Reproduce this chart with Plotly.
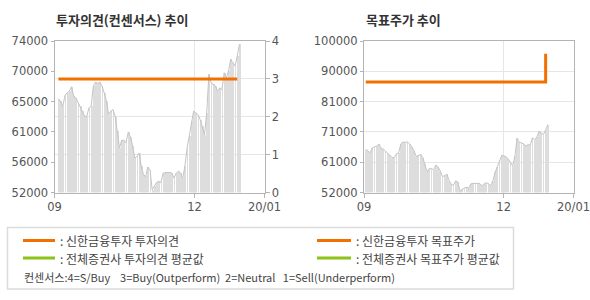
import plotly.graph_objects as go

# ---- data ----
price = [65600, 65260, 64530, 66090, 66470, 66720, 67350, 66000, 65750, 65020,
         64530, 63800, 63070, 63070, 64290, 64530, 67450, 68030, 67840, 68030,
         67450, 66470, 65260, 63320, 63800, 64050, 63070, 60890, 58460, 59580,
         59580, 59190, 60740, 60060, 58800, 57000, 57240, 57730, 55790, 54570,
         54330, 55690, 55300, 52390, 52970, 53460, 53600, 53460, 54820, 54910,
         54910, 54910, 54820, 54090, 54820, 55060, 54820, 54090, 55790, 58460,
         60160, 62350, 63800, 63560, 63320, 62590, 61620, 60400, 63560, 69150,
         67930, 67690, 67450, 66720, 67200, 66960, 69390, 68660, 69630, 71330,
         70850, 70360, 71820, 73520]
day_idx = list(range(len(price)))

opinion_idx = [0, 82]
opinion_val = [3, 3]

target_idx = [0, 82]
target_val = [87000, 96000]

x_tick_labels = ["09", "12", "20/01"]
left_ytick_vals = [52000, 56400, 60800, 65200, 69600, 74000]
left_ytick_text = ["52000", "56000", "61000", "65000", "70000", "74000"]
right_ytick_vals = [52000, 61600, 71200, 80800, 90400, 100000]
right_ytick_text = ["52000", "61000", "71000", "81000", "90000", "100000"]
opinion_ticks = [0, 1, 2, 3, 4]

ORANGE = "#F27000"
GREEN = "#8CC21A"
BAR = "#dddddd"
LINE = "#c4c4c4"
GRID = "#e6e6e6"
FRAME = "#b4b4b4"
TXT = "#555555"

W, H = 590, 300
def px(x): return x / W
def py(y): return 1 - y / H

fig = go.Figure()

# left chart
fig.add_trace(go.Bar(x=day_idx, y=price, width=0.38, marker=dict(color=BAR, line=dict(width=0)),
                     xaxis="x", yaxis="y", showlegend=False, hoverinfo="skip"))
fig.add_trace(go.Scatter(x=day_idx, y=price, mode="lines", line=dict(color=LINE, width=1),
                         xaxis="x", yaxis="y", showlegend=False))
fig.add_trace(go.Scatter(x=opinion_idx, y=opinion_val, mode="lines", line=dict(color=ORANGE, width=3),
                         xaxis="x", yaxis="y2", showlegend=False))

# right chart
fig.add_trace(go.Bar(x=day_idx, y=price, width=0.38, marker=dict(color=BAR, line=dict(width=0)),
                     xaxis="x2", yaxis="y3", showlegend=False, hoverinfo="skip"))
fig.add_trace(go.Scatter(x=day_idx, y=price, mode="lines", line=dict(color=LINE, width=1),
                         xaxis="x2", yaxis="y3", showlegend=False))
fig.add_trace(go.Scatter(x=target_idx, y=target_val, mode="lines", line=dict(color=ORANGE, width=3, shape="hv"),
                         xaxis="x2", yaxis="y3", showlegend=False))

tickfont = dict(family="DejaVu Sans", size=11.5, color=TXT)
xl = [-1.8, 94.5]
xr = [-0.8, 94.7]
def xt(r): return [r[0], r[0] + (r[1] - r[0]) * 2 / 3, r[1]]

ytop, ybot = py(41), py(192.5)

common_x = dict(showline=True, linecolor=FRAME, linewidth=1, mirror=True, ticks="outside",
                ticklen=4, tickcolor=FRAME, showgrid=True, gridcolor=GRID, zeroline=False,
                tickmode="array", ticktext=x_tick_labels, tickfont=tickfont, automargin=False,
                ticklabeloverflow="allow")

fig.update_layout(
    width=W, height=H, margin=dict(l=0, r=0, t=0, b=0, autoexpand=False),
    paper_bgcolor="white", plot_bgcolor="white", barmode="overlay", bargap=0,
    xaxis=dict(domain=[px(54.5), px(264.5)], range=xl, tickvals=xt(xl), anchor="y", **common_x),
    yaxis=dict(domain=[ybot, ytop], range=[52000, 74000], tickmode="array",
               tickvals=left_ytick_vals, ticktext=left_ytick_text, showgrid=False,
               showline=True, linecolor=FRAME, mirror=True, ticks="outside", ticklen=3,
               tickcolor=FRAME, tickfont=tickfont, zeroline=False, anchor="x", automargin=False,
               ticklabeloverflow="allow"),
    yaxis2=dict(domain=[ybot, ytop], range=[0, 4], tickmode="array", tickvals=opinion_ticks,
                overlaying="y", side="right", anchor="x", showgrid=True, gridcolor=GRID,
                ticks="outside", ticklen=4, tickcolor=FRAME, tickfont=tickfont, zeroline=False,
                showline=False, automargin=False, ticklabeloverflow="allow"),
    xaxis2=dict(domain=[px(364), px(573.5)], range=xr, tickvals=xt(xr), anchor="y3", **common_x),
    yaxis3=dict(domain=[ybot, ytop], range=[52000, 100000], tickmode="array",
                tickvals=right_ytick_vals, ticktext=right_ytick_text, showgrid=True, gridcolor=GRID,
                showline=True, linecolor=FRAME, mirror=True, ticks="outside", ticklen=3,
                tickcolor=FRAME, tickfont=tickfont, zeroline=False, anchor="x2", automargin=False,
                ticklabeloverflow="allow"),
)

# titles
titlefont = dict(family="Noto Sans CJK KR", size=13, color="#333333")
fig.add_annotation(text="<b>투자의견(컨센서스) 추이</b>", x=px(54), y=py(20), xref="paper", yref="paper",
                   xanchor="left", yanchor="middle", showarrow=False, font=titlefont)
fig.add_annotation(text="<b>목표주가 추이</b>", x=px(364), y=py(20), xref="paper", yref="paper",
                   xanchor="left", yanchor="middle", showarrow=False, font=titlefont)

# legend box
fig.add_shape(type="rect", xref="paper", yref="paper", x0=px(7.5), x1=px(513.5), y0=py(289), y1=py(227.5),
              line=dict(color="#dcdcdc", width=1.5), fillcolor="white", layer="below")
legfont = dict(family="Noto Sans CJK KR", size=12, color="#444444")
legend_items = [
    (23, 55, 240.5, ORANGE, ": 신한금융투자 투자의견"),
    (23, 55, 258, GREEN, ": 전체증권사 투자의견 평균값"),
    (317, 351, 240.5, ORANGE, ": 신한금융투자 목표주가"),
    (317, 351, 258, GREEN, ": 전체증권사 목표주가 평균값"),
]
for x0, x1, y, c, t in legend_items:
    fig.add_shape(type="line", xref="paper", yref="paper", x0=px(x0), x1=px(x1), y0=py(y), y1=py(y),
                  line=dict(color=c, width=3))
    fig.add_annotation(text=t, x=px(x1 + 3), y=py(y), xref="paper", yref="paper", xanchor="left",
                       yanchor="middle", showarrow=False, font=legfont)
fig.add_annotation(text="컨센서스:4=S/Buy&nbsp;&nbsp;&nbsp;&nbsp;3=Buy(Outperform)&nbsp;&nbsp;2=Neutral&nbsp;&nbsp;&nbsp;1=Sell(Underperform)",
                   x=px(22), y=py(277), xref="paper", yref="paper", xanchor="left", yanchor="middle",
                   showarrow=False, font=dict(family="Noto Sans CJK KR", size=11, color="#444444"))

fig.write_html("out.html")
